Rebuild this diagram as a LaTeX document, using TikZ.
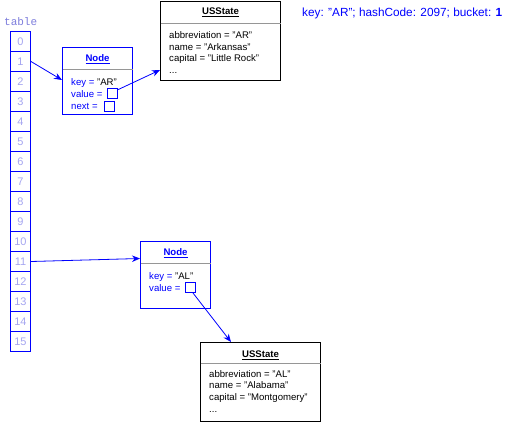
\documentclass[tikz,border=0pt]{standalone}
\usepackage{fontspec}
\setmainfont{Liberation Sans}
\setmonofont{Liberation Mono}
\usetikzlibrary{arrows.meta,calc}
\definecolor{nblue}{RGB}{0,0,255}
\definecolor{cellnum}{RGB}{165,165,240}
\definecolor{tablab}{RGB}{125,125,220}
\definecolor{sepgray}{RGB}{150,150,150}
\begin{document}
\begin{tikzpicture}[x=1pt,y=-1pt,
 box/.style={draw, line width=1pt, anchor=north west, inner sep=0pt},
 cell/.style={draw=nblue, line width=1pt, anchor=north west, minimum width=20pt, minimum height=20pt, inner sep=0pt, text=cellnum, font=\fontsize{11}{11}\selectfont},
 txt/.style={anchor=base west, inner sep=0pt, font=\fontsize{9.6}{11}\selectfont},
 ttl/.style={anchor=base, inner sep=0pt, font=\fontsize{9.6}{11}\selectfont\bfseries},
 sep/.style={draw=sepgray, line width=1pt},
 ptr/.style={draw=nblue, line width=1pt, anchor=north west, minimum width=10pt, minimum height=10pt, inner sep=0pt},
 arr/.style={draw=nblue, line width=0.8pt, -{Stealth[length=8pt,width=6.5pt]}},
]
\useasboundingbox (0,0) rectangle (512,423);
% table
\node[anchor=base west, inner sep=0pt, text=tablab, font=\ttfamily\fontsize{11}{11}\selectfont] (tl) at (4,26) {table};
\foreach \i in {0,...,15} \node[cell] (c\i) at (10,{31+20*\i}) {\i};
% label
\node[anchor=base west, inner sep=0pt, text=nblue, font=\fontsize{11.8}{12}\selectfont] (lab) at (302,16.5) {key: "AR"; hashCode: 2097; bucket: \textbf{1}};
% Node 1
\node[box, draw=nblue, minimum width=70pt, minimum height=67pt] (n1) at (62,47) {};
\node[ttl, text=nblue] (n1t) at ($(n1.north)+(0,14.5)$) {\underline{Node}};
\draw[sep] ($(n1.north west)+(0.5,22.3)$) -- ($(n1.north east)+(-0.5,22.3)$);
\node[txt, text=nblue] (n1k) at (71,85) {key = \textcolor{black}{"AR"}};
\node[txt, text=nblue] (n1v) at (71,97.5) {value =};
\node[txt, text=nblue] (n1n) at (71,109.5) {next =};
\node[ptr] (v1) at (107,88) {};
\node[ptr] (x1) at (104.3,101) {};
% USState 1
\node[box, minimum width=120pt, minimum height=79.5pt] (u1) at (160,0.5) {};
\node[ttl] (u1t) at ($(u1.north)+(0,14)$) {\underline{USState}};
\draw[sep] ($(u1.north west)+(0.5,22.5)$) -- ($(u1.north east)+(-0.5,22.5)$);
\node[txt] (u1a) at (169,38.5) {abbreviation = "AR"};
\node[txt] (u1b) at (169,50) {name = "Arkansas"};
\node[txt] (u1c) at (169,61.5) {capital = "Little Rock"};
\node[txt] (u1d) at (169,73) {...};
% Node 2
\node[box, draw=nblue, minimum width=70pt, minimum height=67pt] (n2) at (140,241) {};
\node[ttl, text=nblue] (n2t) at ($(n2.north)+(0,14.5)$) {\underline{Node}};
\draw[sep] ($(n2.north west)+(0.5,22.3)$) -- ($(n2.north east)+(-0.5,22.3)$);
\node[txt, text=nblue] (n2k) at (149,279.8) {key = \textcolor{black}{"AL"}};
\node[txt, text=nblue] (n2v) at (149,291.2) {value =};
\node[ptr] (v2) at (185,282) {};
% USState 2
\node[box, minimum width=120pt, minimum height=79pt] (u2) at (200,342) {};
\node[ttl] (u2t) at ($(u2.north)+(0,15.5)$) {\underline{USState}};
\draw[sep] ($(u2.north west)+(0.5,21.3)$) -- ($(u2.north east)+(-0.5,21.3)$);
\node[txt] (u2a) at (209,377) {abbreviation = "AL"};
\node[txt] (u2b) at (209,388.5) {name = "Alabama"};
\node[txt] (u2c) at (209,400.5) {capital = "Montgomery"};
\node[txt] (u2d) at (209,412) {...};
% arrows
\draw[arr] (c1.east) -- ($(n1.north west)+(0,33)$);
\draw[arr] ($(v1.north east)!0.15!(v1.south east)$) -- ($(u1.north west)+(0,69.5)$);
\draw[arr] (c11.east) -- ($(n2.north west)+(0,17.5)$);
\draw[arr] ($(v2.south east)+(-3,0)$) -- ($(u2.north west)+(31,0)$);
\end{tikzpicture}
\end{document}
